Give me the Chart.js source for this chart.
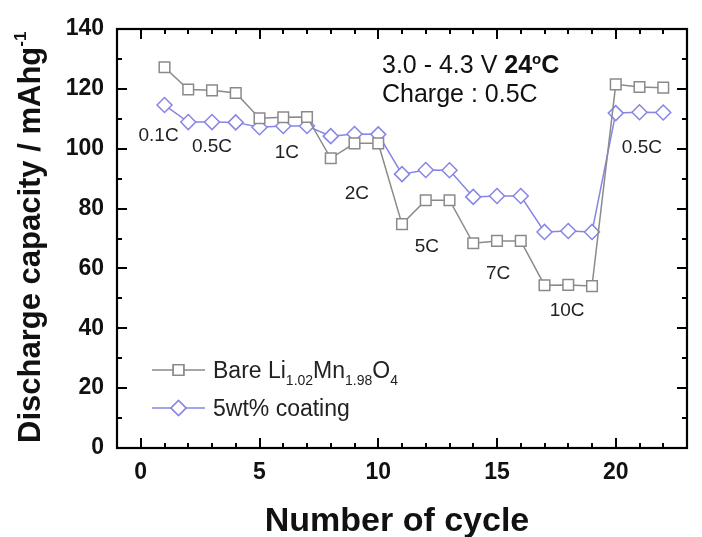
<!DOCTYPE html>
<html>
<head>
<meta charset="utf-8">
<script src="https://cdn.jsdelivr.net/npm/chart.js"></script>
<style>
html, body { margin: 0; padding: 0; background: #fff; }
</style>
</head>
<body>
<canvas id="capacityChart" width="702" height="537"></canvas>
<script>
// values
const cycles = [1, 2, 3, 4, 5, 6, 7, 8, 9, 10, 11, 12, 13, 14, 15, 16, 17, 18, 19, 20, 21, 22];
const bareCapacity = [127.2, 119.8, 119.5, 118.6, 110.2, 110.5, 110.6, 96.8, 101.8, 101.8, 74.8, 82.8, 82.8, 68.4, 69.2, 69.2, 54.4, 54.5, 54.1, 121.5, 120.6, 120.4];
const coatedCapacity = [114.6, 108.9, 108.9, 108.8, 107.2, 107.6, 107.6, 104.2, 104.9, 104.8, 91.5, 92.9, 92.8, 83.9, 84.2, 84.2, 72.2, 72.5, 72.2, 111.9, 112.2, 112.1];
const xTickValues = [0, 5, 10, 15, 20];
const yTickValues = [0, 20, 40, 60, 80, 100, 120, 140];
const rateLabels = ['0.1C', '0.5C', '1C', '2C', '5C', '7C', '10C', '0.5C'];
const rateLabelX = [0.75, 3.0, 6.15, 9.1, 12.05, 15.05, 17.95, 21.1];
const rateLabelY = [104.4, 100.6, 98.6, 84.8, 67.1, 58.2, 45.8, 100.2];

const FONT = '"Liberation Sans", Arial, Helvetica, sans-serif';
const GRAY = '#8a8a8a';
const BLUE = '#8686e6';

// draws a run of [text, fontSize, bold, dy] pieces one after the other
const drawRuns = (ctx, x, y, runs) => {
    let cx = x;
    runs.forEach(([text, size, bold, dy]) => {
        ctx.font = `${bold ? 'bold ' : ''}${size}px ${FONT}`;
        ctx.fillText(text, cx, y + (dy || 0));
        cx += ctx.measureText(text).width;
    });
};

const decorations = {
    id: 'decorations',
    afterDraw(chart) {
        const ctx = chart.ctx;
        const area = chart.chartArea;
        const xs = chart.scales.x;
        const ys = chart.scales.y;
        ctx.save();

        // frame
        ctx.strokeStyle = '#000';
        ctx.lineWidth = 2.2;
        ctx.strokeRect(area.left, area.top, area.right - area.left, area.bottom - area.top);

        // inward ticks on all four sides
        ctx.lineWidth = 2;
        ctx.beginPath();
        for (let v = Math.ceil(xs.min); v <= xs.max; v++) {
            const px = Math.round(xs.getPixelForValue(v));
            const len = v % 5 === 0 ? 10 : 5;
            ctx.moveTo(px, area.bottom); ctx.lineTo(px, area.bottom - len);
            ctx.moveTo(px, area.top); ctx.lineTo(px, area.top + len);
        }
        for (let v = ys.min; v <= ys.max; v += 10) {
            const py = Math.round(ys.getPixelForValue(v));
            const len = v % 20 === 0 ? 10 : 5;
            ctx.moveTo(area.left, py); ctx.lineTo(area.left + len, py);
            ctx.moveTo(area.right, py); ctx.lineTo(area.right - len, py);
        }
        ctx.stroke();

        // C-rate labels
        ctx.fillStyle = '#222';
        ctx.font = `19px ${FONT}`;
        ctx.textAlign = 'center';
        ctx.textBaseline = 'middle';
        rateLabels.forEach((t, i) => {
            ctx.fillText(t, xs.getPixelForValue(rateLabelX[i]), ys.getPixelForValue(rateLabelY[i]));
        });

        // condition note
        ctx.textAlign = 'left';
        ctx.textBaseline = 'alphabetic';
        ctx.fillStyle = '#111';
        drawRuns(ctx, 382, 73, [['3.0 - 4.3 V ', 25, false], ['24', 25, true], ['o', 15, true, -9], ['C', 25, true]]);
        drawRuns(ctx, 382, 102, [['Charge : 0.5C', 25, false]]);

        // legend
        const legendRows = [
            { y: 370, color: GRAY, style: 'rect', runs: [['Bare Li', 23, false], ['1.02', 14, false, 7], ['Mn', 23, false], ['1.98', 14, false, 7], ['O', 23, false], ['4', 14, false, 7]] },
            { y: 408, color: BLUE, style: 'rectRot', runs: [['5wt% coating', 23, false]] }
        ];
        legendRows.forEach(row => {
            ctx.strokeStyle = row.color;
            ctx.lineWidth = 1.5;
            ctx.beginPath();
            ctx.moveTo(152, row.y); ctx.lineTo(205, row.y);
            ctx.stroke();
            ctx.fillStyle = '#fff';
            Chart.helpers.drawPoint(ctx, { pointStyle: row.style, radius: 7.5, borderWidth: 1.5 }, 178.5, row.y);
            ctx.fill();
            ctx.stroke();
            ctx.fillStyle = '#222';
            drawRuns(ctx, 213, row.y + 8, row.runs);
        });

        // axis titles
        ctx.fillStyle = '#111';
        ctx.save();
        ctx.translate(40, 443);
        ctx.rotate(-Math.PI / 2);
        drawRuns(ctx, 0, 0, [['Discharge capacity / mAhg', 31, true], ['-1', 17, true, -14]]);
        ctx.restore();
        ctx.textAlign = 'center';
        ctx.font = `bold 34px ${FONT}`;
        ctx.fillText('Number of cycle', 397, 531);

        ctx.restore();
    }
};

const ctx = document.getElementById('capacityChart').getContext('2d');
new Chart(ctx, {
    type: 'line',
    data: {
        datasets: [
            {
                label: 'Bare',
                data: cycles.map((c, i) => ({ x: c, y: bareCapacity[i] })),
                borderColor: GRAY,
                borderWidth: 1.5,
                pointStyle: 'rect',
                pointRadius: 7.5,
                pointBorderWidth: 1.5,
                pointBackgroundColor: '#fff',
                pointBorderColor: GRAY,
                tension: 0
            },
            {
                label: '5wt% coating',
                data: cycles.map((c, i) => ({ x: c, y: coatedCapacity[i] })),
                borderColor: BLUE,
                borderWidth: 1.5,
                pointStyle: 'rectRot',
                pointRadius: 7.5,
                pointBorderWidth: 1.5,
                pointBackgroundColor: '#fff',
                pointBorderColor: BLUE,
                tension: 0
            }
        ]
    },
    options: {
        responsive: false,
        animation: false,
        devicePixelRatio: 1,
        layout: { padding: { top: 29, right: 15, left: 0, bottom: 0 } },
        plugins: { legend: { display: false }, tooltip: { enabled: false } },
        scales: {
            x: {
                type: 'linear',
                min: -1,
                max: 23,
                afterBuildTicks: (scale) => { scale.ticks = xTickValues.map(v => ({ value: v })); },
                afterFit: (scale) => { scale.height = 89; },
                grid: { display: false, drawTicks: false },
                border: { display: false },
                ticks: { padding: 11, color: '#111', font: { family: FONT, size: 23, weight: 'bold' } }
            },
            y: {
                min: 0,
                max: 140,
                afterBuildTicks: (scale) => { scale.ticks = yTickValues.map(v => ({ value: v })); },
                afterFit: (scale) => { scale.width = 117; },
                grid: { display: false, drawTicks: false },
                border: { display: false },
                ticks: { padding: 13, color: '#111', font: { family: FONT, size: 23, weight: 'bold' } }
            }
        }
    },
    plugins: [decorations]
});
</script>
</body>
</html>
